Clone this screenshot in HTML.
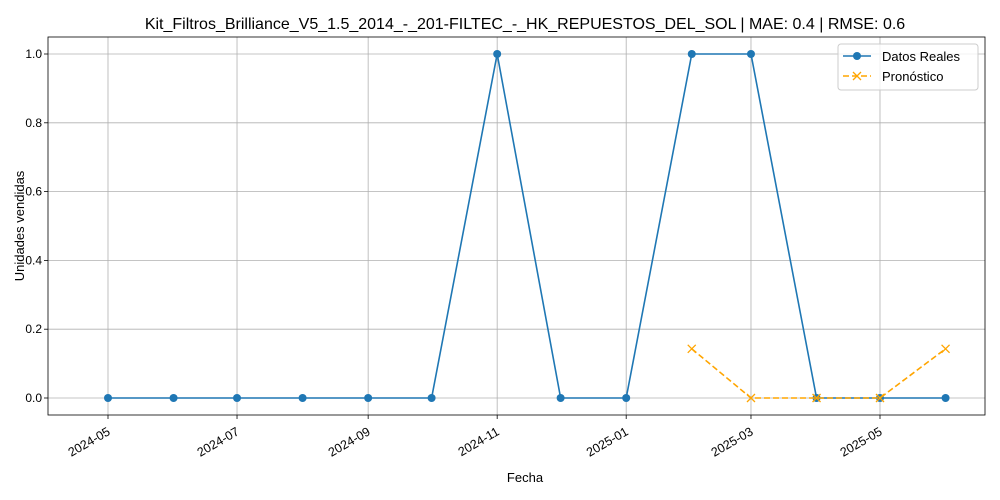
<!DOCTYPE html>
<html><head><meta charset="utf-8">
<style>
body{margin:0;background:#fff;}
svg{display:block;font-family:"Liberation Sans","DejaVu Sans",sans-serif;}
</style></head>
<body>
<svg id="chart" width="1000" height="500" viewBox="0 0 1000 500"></svg>
<script>
const actualDates = ["2024-05-01","2024-06-01","2024-07-01","2024-08-01","2024-09-01","2024-10-01","2024-11-01","2024-12-01","2025-01-01","2025-02-01","2025-03-01","2025-04-01","2025-05-01","2025-06-01"];
const actualValues = [0,0,0,0,0,0,1,0,0,1,1,0,0,0];
const forecastDates = ["2025-02-01","2025-03-01","2025-04-01","2025-05-01","2025-06-01"];
const forecastValues = [0.143,0,0,0,0.143];
const xTickLabels = ["2024-05","2024-07","2024-09","2024-11","2025-01","2025-03","2025-05"];
const yTickLabels = ["0.0","0.2","0.4","0.6","0.8","1.0"];

const NS="http://www.w3.org/2000/svg";
const svg=document.getElementById('chart');
const L=48,R=985,T=37,B=415;
const d0=Date.parse("2024-05-01"), d1=Date.parse("2025-05-01");
function xs(d){return 108+(Date.parse(d)-d0)/(d1-d0)*772;}
function ys(v){return 398-v*344;}
function el(tag,attrs,parent){const e=document.createElementNS(NS,tag);for(const k in attrs)e.setAttribute(k,attrs[k]);(parent||svg).appendChild(e);return e;}

xTickLabels.forEach(t=>{
  const x=xs(t+"-01");
  const g=el('line',{x1:x,x2:x,y1:T,y2:B,stroke:'#b0b0b0','stroke-width':0.8});
  
  
  el('line',{x1:x,x2:x,y1:B,y2:B+4,stroke:'#000','stroke-width':0.8});
  const ax=x+3, ay=B+19;
  const tx=el('text',{x:ax,y:ay,'font-size':12.5,'text-anchor':'end',transform:`rotate(-30 ${ax} ${ay})`});
  tx.textContent=t;
  
  
});
yTickLabels.forEach(t=>{
  const y=ys(parseFloat(t));
  const g=el('line',{x1:L,x2:R,y1:y,y2:y,stroke:'#b0b0b0','stroke-width':0.8});
  
  
  el('line',{x1:L-4,x2:L,y1:y,y2:y,stroke:'#000','stroke-width':0.8});
  const tx=el('text',{x:L-6,y:y+4,'font-size':12,'text-anchor':'end'});
  tx.textContent=t;
  
  
});

const ap=actualDates.map((d,i)=>xs(d)+','+ys(actualValues[i])).join(' ');
const al=el('polyline',{points:ap,fill:'none',stroke:'#1f77b4','stroke-width':1.6});


actualDates.forEach((d,i)=>{
  const c=el('circle',{cx:xs(d),cy:ys(actualValues[i]),r:4,fill:'#1f77b4'});
  
  
});
const fp=forecastDates.map((d,i)=>xs(d)+','+ys(forecastValues[i])).join(' ');
const fl=el('polyline',{points:fp,fill:'none',stroke:'orange','stroke-width':1.6,'stroke-dasharray':'6,3'});


forecastDates.forEach((d,i)=>{
  const x=xs(d),y=ys(forecastValues[i]);
  const p=el('path',{d:`M${x-4},${y-4}L${x+4},${y+4}M${x-4},${y+4}L${x+4},${y-4}`,stroke:'orange','stroke-width':1.3});
  
  
});

const fr=el('rect',{x:L,y:T,width:R-L,height:B-T,fill:'none',stroke:'#000','stroke-width':0.8});


</script>
<svg style="position:absolute;left:0;top:0" width="1000" height="500">
<text x="525" y="29" font-size="16" text-anchor="middle" font-family="Liberation Sans, DejaVu Sans, sans-serif">Kit_Filtros_Brilliance_V5_1.5_2014_-_201-FILTEC_-_HK_REPUESTOS_DEL_SOL | MAE: 0.4 | RMSE: 0.6</text>
<text x="525" y="482" font-size="13" text-anchor="middle" font-family="Liberation Sans, DejaVu Sans, sans-serif">Fecha</text>
<text x="24" y="226" font-size="13" text-anchor="middle" transform="rotate(-90 24 226)" font-family="Liberation Sans, DejaVu Sans, sans-serif">Unidades vendidas</text>
<g font-family="Liberation Sans, DejaVu Sans, sans-serif" font-size="13">
<rect x="838" y="44" width="140" height="46" rx="3" fill="#fff" fill-opacity="0.8" stroke="#ccc"/>
<g>
<line x1="843" x2="871" y1="56" y2="56" stroke="#1f77b4" stroke-width="1.6"/>
<circle cx="857" cy="56" r="4" fill="#1f77b4"/>
<text x="882" y="61">Datos Reales</text></g>
<g>
<line x1="843" x2="871" y1="76" y2="76" stroke="orange" stroke-width="1.6" stroke-dasharray="6,3"/>
<path d="M853,72L861,80M853,80L861,72" stroke="orange" stroke-width="1.3"/>
<text x="882" y="81">Pronóstico</text></g>
</g>
</svg>
</body></html>
